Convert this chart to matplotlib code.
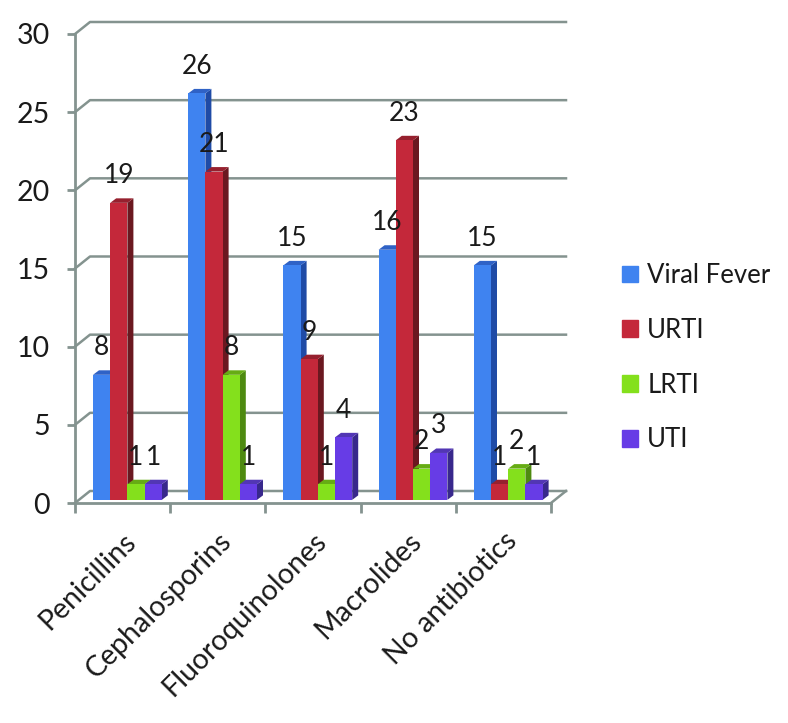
import numpy as np
import matplotlib
matplotlib.use('Agg')
import matplotlib.pyplot as plt
from matplotlib.patches import Patch

plt.rcParams['font.family'] = ['Lato', 'DejaVu Sans']

# Data
categories = ['Penicillins', 'Cephalosporins', 'Fluoroquinolones', 'Macrolides', 'No antibiotics']
series_names = ['Viral Fever', 'URTI', 'LRTI', 'UTI']
viral_fever = [8, 26, 15, 16, 15]
urti = [19, 21, 9, 23, 1]
lrti = [1, 8, 1, 2, 2]
uti = [1, 1, 4, 3, 1]
y_ticks = [0, 5, 10, 15, 20, 25, 30]

all_series = [viral_fever, urti, lrti, uti]
front_colors = ['#3F83F0', '#C4283A', '#84E01C', '#673CE6']
side_colors = ['#1F4BA6', '#6B1820', '#4E8A10', '#38288C']
top_colors = ['#2F62C6', '#96202E', '#66AC14', '#5236B4']
grid_color = '#84938F'

fig = plt.figure(figsize=(7.88, 7.23), dpi=100)
ax = fig.add_axes([75 / 788, 1 - 503 / 723, 476 / 788, 469 / 723])
ax.set_xlim(0, 5)
ax.set_ylim(0, 30)

# size of the fake 3D depth in data units
wall_dx = 15 / 95.2
wall_dy = 12 / 15.63
bar_dx = 6 / 95.2
bar_dy = 4.5 / 15.63
bar_w = 17.2 / 95.2
bar_start = 18 / 95.2
lift = 0.2

# back wall gridlines with the slanted bit at the left
for t in y_ticks:
    ax.plot([0, wall_dx, 5 + wall_dx], [t, t + wall_dy, t + wall_dy],
            color=grid_color, lw=1.8, clip_on=False, zorder=1)
ax.plot([5, 5 + wall_dx], [0, wall_dy], color=grid_color, lw=1.8, clip_on=False, zorder=1)

# bars
for s, values in enumerate(all_series):
    x = np.arange(len(values)) + bar_start + s * bar_w
    zs = 2 + s * 0.01
    ax.bar(x, values, width=bar_w, bottom=lift, align='edge', color=front_colors[s], zorder=zs + 0.2)
    for xi, v in zip(x, values):
        top = v + lift
        ax.fill([xi + bar_w, xi + bar_w + bar_dx, xi + bar_w + bar_dx, xi + bar_w],
                [lift, lift + bar_dy, top + bar_dy, top],
                color=side_colors[s], lw=0, zorder=zs)
        ax.fill([xi, xi + bar_dx, xi + bar_w + bar_dx, xi + bar_w],
                [top, top + bar_dy, top + bar_dy, top],
                color=top_colors[s], lw=0, zorder=zs)
        ax.annotate(str(v), (xi + bar_w / 2, top), xytext=(0, 10.5), textcoords='offset points',
                    ha='center', va='bottom', fontsize=19, color='#1a1a1a', zorder=5,
                    annotation_clip=False)

ax.patch.set_visible(False)
for side in ['top', 'right']:
    ax.spines[side].set_visible(False)
for side in ['left', 'bottom']:
    ax.spines[side].set_color(grid_color)
    ax.spines[side].set_linewidth(2)
    ax.spines[side].set_zorder(1.5)

ax.set_yticks(y_ticks)
ax.tick_params(axis='y', length=6, width=2, color=grid_color, labelsize=20.5, pad=12, labelcolor='#1a1a1a')
ax.set_xticks(np.arange(6))
ax.set_xticklabels([])
ax.tick_params(axis='x', which='major', length=7, width=2, color=grid_color)
ax.set_xticks(np.arange(5) + 0.5, minor=True)
ax.set_xticklabels(categories, minor=True, rotation=45, ha='right', va='top',
                   rotation_mode='anchor', fontsize=20.5, color='#1a1a1a')
ax.tick_params(axis='x', which='minor', length=0, pad=18)

handles = [Patch(color=c) for c in front_colors]
fig.legend(handles, series_names, loc='upper left', bbox_to_anchor=(622 / 788, 1 - 263 / 723),
           frameon=False, fontsize=18.5, labelspacing=1.16, handlelength=0.62, handleheight=0.62,
           handletextpad=0.36, labelcolor='#1a1a1a', borderpad=0, borderaxespad=0)

fig.savefig('out.png', dpi=100)
